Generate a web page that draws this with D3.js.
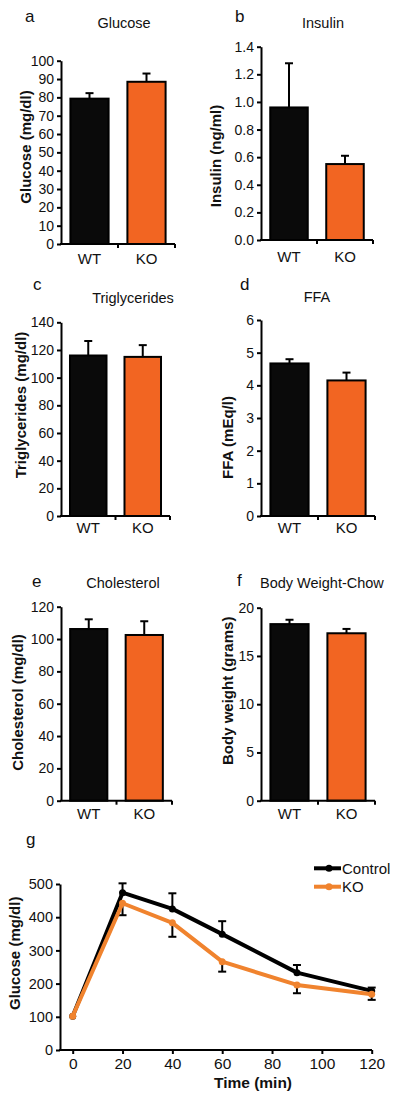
<!DOCTYPE html>
<html><head><meta charset="utf-8">
<script src="https://cdn.jsdelivr.net/npm/d3@7"></script>
<style>
body{margin:0;background:#fff;}
text{font-family:"Liberation Sans",Arial,sans-serif;fill:#111;}
</style></head>
<body><svg id="c" width="400" height="1099"></svg>
<script>
// ---- data ----
const groups = ["WT","KO"];
const glucoseMean = [79.3, 88.5],  glucoseErr = [3.0, 4.5];
const insulinMean = [0.96, 0.55],  insulinErr = [0.32, 0.06];
const trigMean = [116, 115],       trigErr = [10.5, 8.5];
const ffaMean = [4.67, 4.15],      ffaErr = [0.13, 0.24];
const cholMean = [106.2, 102.5],   cholErr = [6, 8.5];
const bwMean = [18.3, 17.35],      bwErr = [0.45, 0.45];
const glucoseTicks = [0,10,20,30,40,50,60,70,80,90,100];
const insulinTicks = [0,0.2,0.4,0.6,0.8,1.0,1.2,1.4];
const trigTicks = [0,20,40,60,80,100,120,140];
const ffaTicks = [0,1,2,3,4,5,6];
const cholTicks = [0,20,40,60,80,100,120];
const bwTicks = [0,5,10,15,20];

const gttTime = [0,20,40,60,90,120];
const gttControl = [102,474,425,349,233,178];
const gttControlErr = [0,28,47,39,23,10];
const gttKO = [102,442,383,266,196,168];
const gttKOErr = [0,36,42,30,25,17];
const gttYTicks = [0,100,200,300,400,500];
const gttXTicks = [0,20,40,60,80,100,120];

const barColors = ["#0a0a0a","#F26522"];
const lineOrange = "#F0832E";

const svg = d3.select("#c");

const panels = [
 {letter:"a",lx:25,ly:21.5,title:"Glucose",tx:124,ty:27.5,tanchor:"middle",mean:glucoseMean,err:glucoseErr,ticks:glucoseTicks,fmt:d3.format("d"),dom:[0,100],yr:[244,60.7],xr:[61,175],ylab:"Glucose (mg/dl)",ylx:31,yly:147,xly:263.5},
 {letter:"b",lx:235,ly:21.5,title:"Insulin",tx:323,ty:28.3,tanchor:"middle",mean:insulinMean,err:insulinErr,ticks:insulinTicks,fmt:d3.format(".1f"),dom:[0,1.4],yr:[240,46.7],xr:[261,373],ylab:"Insulin (ng/ml)",ylx:221,yly:156,xly:261.7},
 {letter:"c",lx:33,ly:290,title:"Triglycerides",tx:133,ty:302.7,tanchor:"middle",mean:trigMean,err:trigErr,ticks:trigTicks,fmt:d3.format("d"),dom:[0,140],yr:[516,322.3],xr:[61,170],ylab:"Triglycerides (mg/dl)",ylx:26,yly:405,xly:533.3},
 {letter:"d",lx:240,ly:290,title:"FFA",tx:317,ty:301.7,tanchor:"middle",mean:ffaMean,err:ffaErr,ticks:ffaTicks,fmt:d3.format("d"),dom:[0,6],yr:[516,320],xr:[261,375],ylab:"FFA (mEq/l)",ylx:232.5,yly:437.5,xly:533.3},
 {letter:"e",lx:32,ly:586.7,title:"Cholesterol",tx:123,ty:588.3,tanchor:"middle",mean:cholMean,err:cholErr,ticks:cholTicks,fmt:d3.format("d"),dom:[0,120],yr:[800.7,606.7],xr:[61,172],ylab:"Cholesterol (mg/dl)",ylx:22.5,yly:702.5,xly:819.3},
 {letter:"f",lx:237,ly:586,title:"Body Weight-Chow",tx:260,ty:588.3,tanchor:"start",mean:bwMean,err:bwErr,ticks:bwTicks,fmt:d3.format("d"),dom:[0,20],yr:[800.7,607.7],xr:[261,375],ylab:"Body weight (grams)",ylx:232.5,yly:690.8,xly:819.3}
];

panels.forEach(p=>{
  const g = svg.append("g");
  const y = d3.scaleLinear().domain(p.dom).range(p.yr);
  const x = d3.scaleBand().domain(groups).range(p.xr).paddingInner(0.33).paddingOuter(0.165);
  g.append("text").attr("x",p.lx).attr("y",p.ly).attr("font-size",17).text(p.letter);
  g.append("text").attr("x",p.tx).attr("y",p.ty).attr("text-anchor",p.tanchor).attr("font-size",14.5).text(p.title);
  g.append("text").attr("transform",`translate(${p.ylx},${p.yly}) rotate(-90)`).attr("text-anchor","middle")
    .attr("font-size",15).attr("font-weight","bold").text(p.ylab);
  // bars
  g.selectAll("rect.bar").data(groups).join("rect")
    .attr("x",d=>x(d)).attr("width",x.bandwidth())
    .attr("y",(d,i)=>y(p.mean[i])).attr("height",(d,i)=>y(0)-y(p.mean[i]))
    .attr("fill",(d,i)=>barColors[i]).attr("stroke","#000").attr("stroke-width",2);
  // error bars (upper)
  groups.forEach((d,i)=>{
    const cx = x(d)+x.bandwidth()/2;
    g.append("line").attr("x1",cx).attr("x2",cx).attr("y1",y(p.mean[i])).attr("y2",y(p.mean[i]+p.err[i])).attr("stroke","#000").attr("stroke-width",2);
    g.append("line").attr("x1",cx-4).attr("x2",cx+4).attr("y1",y(p.mean[i]+p.err[i])).attr("y2",y(p.mean[i]+p.err[i])).attr("stroke","#000").attr("stroke-width",2);
  });
  // y axis
  const ya = g.append("g").attr("transform",`translate(${p.xr[0]},0)`)
    .call(d3.axisLeft(y).tickValues(p.ticks).tickFormat(p.fmt).tickSize(4).tickPadding(3).tickSizeOuter(0));
  ya.select(".domain").attr("stroke-width",2);
  ya.selectAll(".tick line").attr("stroke-width",2);
  ya.selectAll("text").attr("font-size",14).attr("font-family","Liberation Sans, Arial, sans-serif").attr("fill","#111");
  // x axis
  g.append("line").attr("x1",p.xr[0]-1).attr("x2",p.xr[1]).attr("y1",y(0)).attr("y2",y(0)).attr("stroke","#000").attr("stroke-width",2);
  const bounds = [x.step()*0+p.xr[0]+ (p.xr[1]-p.xr[0])/2, p.xr[1]];
  bounds.forEach(bx=>{
    g.append("line").attr("x1",bx).attr("x2",bx).attr("y1",y(0)).attr("y2",y(0)+4).attr("stroke","#000").attr("stroke-width",2);
  });
  groups.forEach(d=>{
    g.append("text").attr("x",x(d)+x.bandwidth()/2).attr("y",p.xly).attr("text-anchor","middle").attr("font-size",15).text(d);
  });
});

// ---- panel g ----
{
  const g = svg.append("g");
  const x = d3.scaleLinear().domain([0,120]).range([72.7,371.7]);
  const y = d3.scaleLinear().domain([0,500]).range([1050,884]);
  g.append("text").attr("x",26).attr("y",845).attr("font-size",17).text("g");
  g.append("text").attr("transform",`translate(19.5,953.3) rotate(-90)`).attr("text-anchor","middle")
    .attr("font-size",15).attr("font-weight","bold").text("Glucose (mg/dl)");
  g.append("text").attr("x",253).attr("y",1088.3).attr("text-anchor","middle").attr("font-size",15.5).attr("font-weight","bold").text("Time (min)");
  const ya = g.append("g").attr("transform","translate(60,0)")
    .call(d3.axisLeft(y).tickValues(gttYTicks).tickSize(4).tickPadding(3).tickSizeOuter(0));
  ya.select(".domain").attr("stroke-width",2);
  ya.selectAll(".tick line").attr("stroke-width",2);
  ya.selectAll("text").attr("font-size",14.5).attr("font-family","Liberation Sans, Arial, sans-serif").attr("fill","#111");
  const xa = g.append("g").attr("transform","translate(0,1050)")
    .call(d3.axisBottom(x).tickValues(gttXTicks).tickSize(4).tickPadding(4).tickSizeOuter(0));
  xa.select(".domain").remove();
  g.append("line").attr("x1",59).attr("x2",372).attr("y1",1050).attr("y2",1050).attr("stroke","#000").attr("stroke-width",2);
  xa.selectAll(".tick line").attr("stroke-width",2);
  xa.selectAll("text").attr("font-size",15.5).attr("font-family","Liberation Sans, Arial, sans-serif").attr("fill","#111");

  const line = d3.line().x((d,i)=>x(gttTime[i])).y(d=>y(d));
  const series = [
    {vals:gttControl, err:gttControlErr, color:"#000", dir:1},
    {vals:gttKO, err:gttKOErr, color:lineOrange, dir:-1}
  ];
  series.forEach(s=>{
    s.vals.forEach((v,i)=>{
      if(s.err[i]<=0) return;
      const cx = x(gttTime[i]), e = v + s.dir*s.err[i];
      g.append("line").attr("x1",cx).attr("x2",cx).attr("y1",y(v)).attr("y2",y(e)).attr("stroke","#000").attr("stroke-width",2);
      g.append("line").attr("x1",cx-4).attr("x2",cx+4).attr("y1",y(e)).attr("y2",y(e)).attr("stroke","#000").attr("stroke-width",2);
    });
  });
  series.forEach(s=>{
    g.append("path").datum(s.vals).attr("d",line).attr("fill","none").attr("stroke",s.color).attr("stroke-width",4).attr("stroke-linejoin","round");
    g.selectAll(null).data(s.vals).join("circle").attr("cx",(d,i)=>x(gttTime[i])).attr("cy",d=>y(d)).attr("r",3.5).attr("fill",s.color);
  });
  // legend
  const leg = [{name:"Control",color:"#000",y:868.3},{name:"KO",color:lineOrange,y:886.7}];
  leg.forEach(l=>{
    g.append("line").attr("x1",314).attr("x2",341).attr("y1",l.y).attr("y2",l.y).attr("stroke",l.color).attr("stroke-width",4);
    g.append("circle").attr("cx",329).attr("cy",l.y).attr("r",3.5).attr("fill",l.color);
    g.append("text").attr("x",342).attr("y",l.y+5.3).attr("font-size",15).text(l.name);
  });
}
</script></body></html>
